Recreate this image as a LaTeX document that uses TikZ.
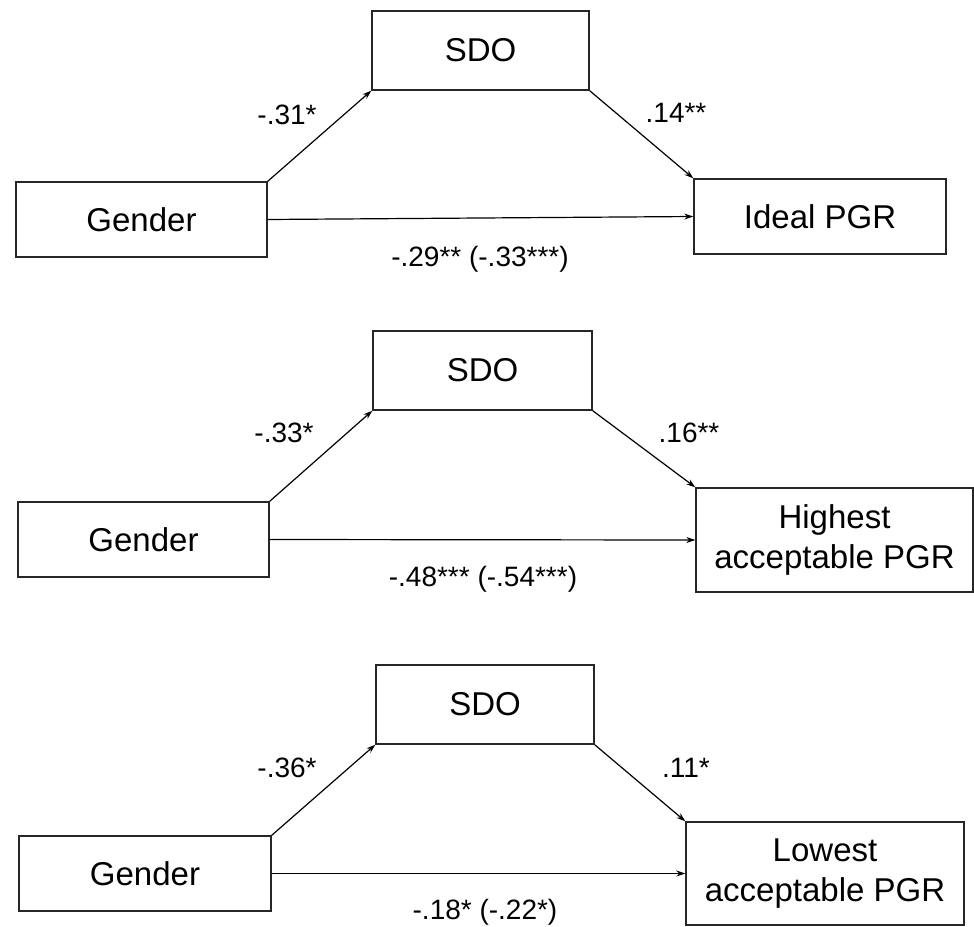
\documentclass[tikz,border=0pt]{standalone}
\usepackage{fontspec}
\setmainfont{Liberation Sans}
\usetikzlibrary{arrows.meta}

\tikzset{
  box/.style={draw=black!85, line width=1.4pt, inner sep=0pt, align=center,
    font=\fontsize{33}{40}\selectfont},
  coef/.style={inner sep=0pt, font=\fontsize{28}{32}\selectfont},
  link/.style={-{Stealth[length=9pt,width=6pt]}, line width=1.2pt},
}

\begin{document}
\begin{tikzpicture}[x=1pt, y=-1pt]
  \useasboundingbox (0,0) rectangle (974,926);

  % 1. Ideal PGR
  \node[box, minimum width=217pt, minimum height=79pt] (sdo1) at (480.5,50.5) {SDO};
  \node[box, minimum width=251pt, minimum height=75pt] (gen1) at (141.5,219.5) {Gender};
  \node[box, minimum width=252pt, minimum height=75pt] (ideal) at (820,216.5) {Ideal PGR};
  \draw[link] (gen1.north east) -- (sdo1.south west);
  \draw[link] (sdo1.south east) -- (ideal.north west);
  \draw[link] (gen1.east) -- (ideal.west);
  \node[coef] (c1a) at (287,115) {-.31*};
  \node[coef] (c1b) at (676,113) {.14**};
  \node[coef] (c1c) at (480,259) {-.29** (-.33***)};

  % 2. Highest acceptable PGR
  \node[box, minimum width=219pt, minimum height=79pt] (sdo2) at (482.5,370.5) {SDO};
  \node[box, minimum width=251pt, minimum height=75pt] (gen2) at (143.5,539.5) {Gender};
  \node[box, minimum width=277pt, minimum height=104pt] (high) at (834.5,540) {Highest\\acceptable PGR};
  \draw[link] (gen2.north east) -- (sdo2.south west);
  \draw[link] (sdo2.south east) -- (high.north west);
  \draw[link] (gen2.east) -- (high.west);
  \node[coef] (c2a) at (284,433) {-.33*};
  \node[coef] (c2b) at (689,433) {.16**};
  \node[coef] (c2c) at (483,579) {-.48*** (-.54***)};

  % 3. Lowest acceptable PGR
  \node[box, minimum width=218pt, minimum height=79pt] (sdo3) at (485,704.5) {SDO};
  \node[box, minimum width=252pt, minimum height=75pt] (gen3) at (145,873.5) {Gender};
  \node[box, minimum width=278pt, minimum height=103pt] (low) at (825,873.5) {Lowest\\acceptable PGR};
  \draw[link] (gen3.north east) -- (sdo3.south west);
  \draw[link] (sdo3.south east) -- (low.north west);
  \draw[link] (gen3.east) -- (low.west);
  \node[coef] (c3a) at (287,768) {-.36*};
  \node[coef] (c3b) at (686,768) {.11*};
  \node[coef] (c3c) at (485,912) {-.18* (-.22*)};
\end{tikzpicture}
\end{document}
